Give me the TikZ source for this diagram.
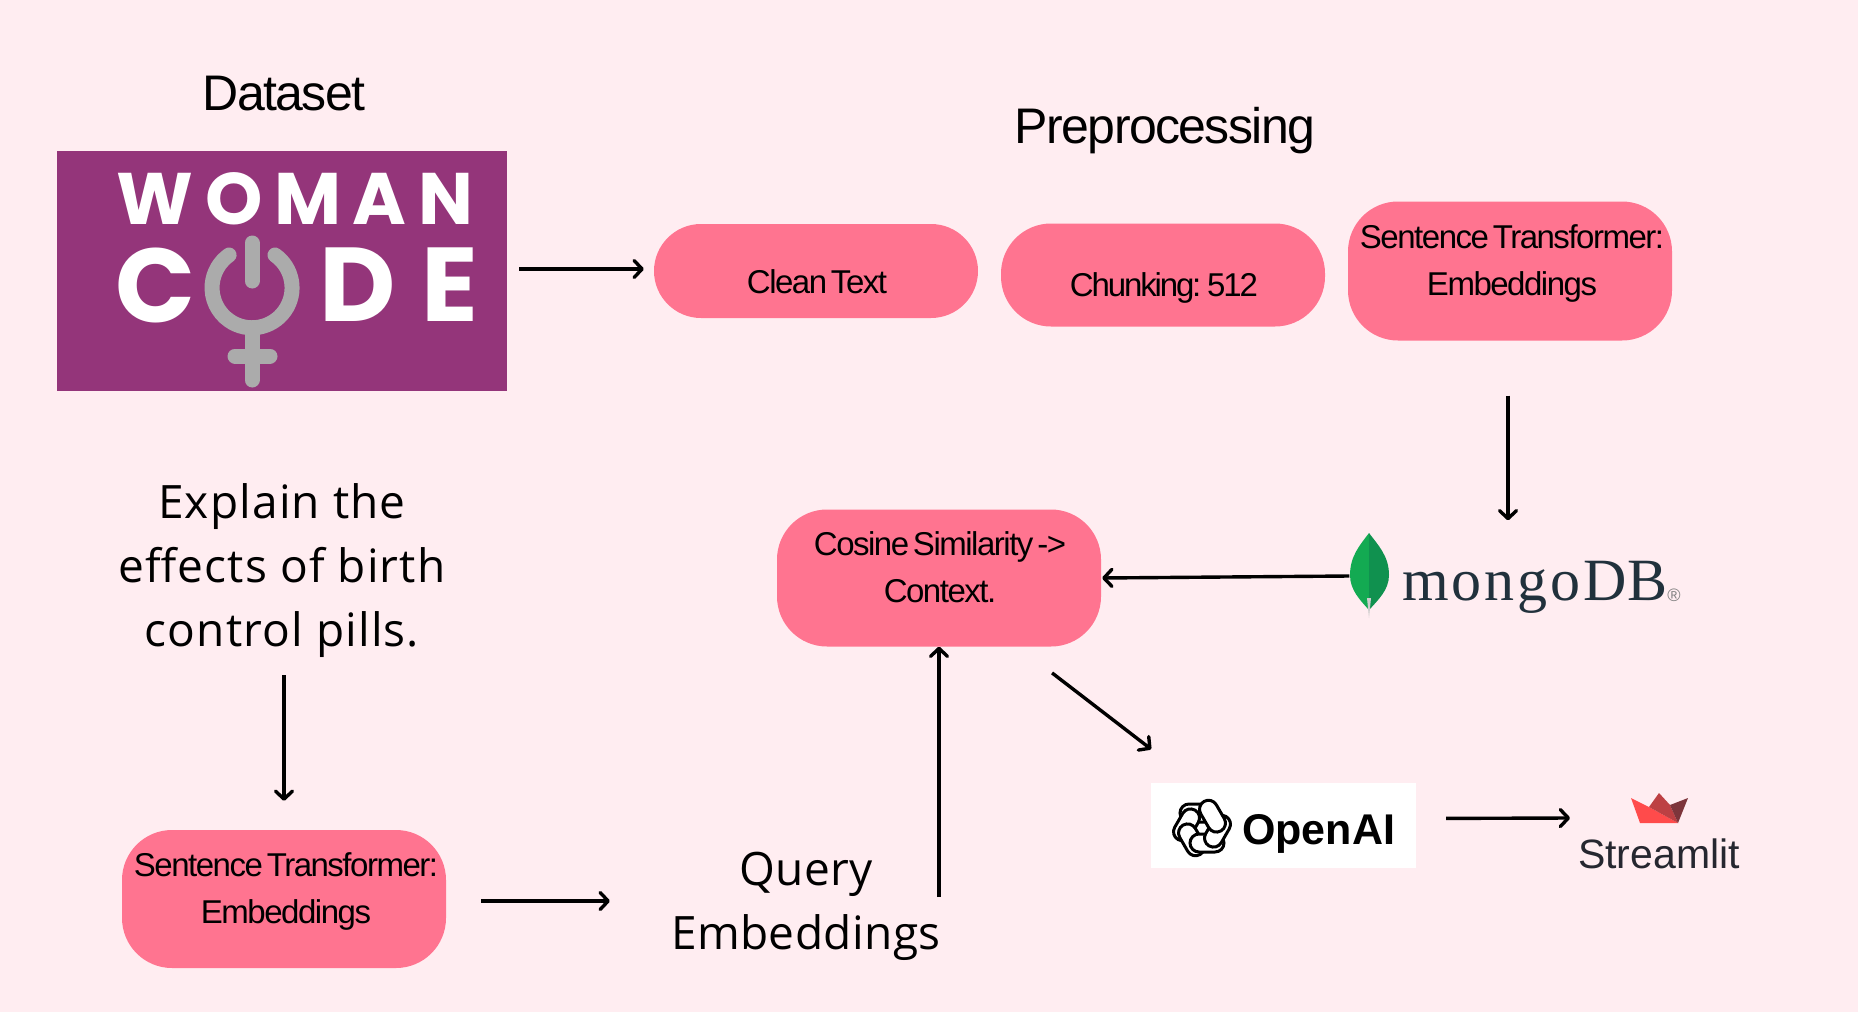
\documentclass[tikz,border=0pt]{standalone}
\usepackage{fontspec}
\usetikzlibrary{arrows.meta}
\setmainfont{Liberation Sans}
\newfontfamily\opensans{Open Sans}
\newfontfamily\poppins{Poppins}
\newfontfamily\mongoserif{Liberation Serif}
\newfontfamily\pillfont[WordSpace=0.5]{Liberation Sans}
\definecolor{blush}{HTML}{FFEDF1}
\definecolor{pillpink}{HTML}{FF7490}
\definecolor{plum}{HTML}{94357A}
\definecolor{logogray}{HTML}{ABABAB}
\definecolor{leafleft}{HTML}{13AA52}
\definecolor{leafright}{HTML}{10914F}
\definecolor{slate}{HTML}{21313C}
\definecolor{litdark}{HTML}{262730}
\definecolor{crownred}{HTML}{FF4B4B}
\definecolor{crownmid}{HTML}{BD4043}
\definecolor{crowndark}{HTML}{7D353B}

\begin{document}
\begin{tikzpicture}
      [ x=1pt, y=-1pt
        , pill/.style={rectangle, rounded corners=#1, fill=pillpink, minimum width=324pt}
        , pilltext/.style={align=center, inner sep=0pt, font=\fontsize{33}{47}\selectfont\pillfont\addfontfeature{LetterSpace=-4.5}}
        , heading/.style={inner sep=0pt, font=\fontsize{50}{60}\selectfont\addfontfeature{LetterSpace=-3.2}}
        , prompt/.style={align=center, inner sep=0pt, font=\fontsize{46}{64}\selectfont\opensans\addfontfeature{LetterSpace=#1}}
        , flow/.style={line width=3.4pt, -{Straight Barb[length=8pt, width=17pt, round]}}
        , womanword/.style={inner sep=0pt, text=white, font=\fontsize{73}{80}\selectfont\poppins\bfseries\addfontfeature{LetterSpace=16}}
        , codeword/.style={inner sep=0pt, text=white, font=\fontsize{105}{110}\selectfont\poppins\bfseries\addfontfeature{LetterSpace=#1}}
        , powerline/.style={draw=logogray, line width=15pt, line cap=round}
      ]
      \useasboundingbox[fill=blush] (0,0) rectangle (1858,1012);

      \node (dataset) [heading] at (284,94) {Dataset};
      \node (preproc) [heading] at (1165,131) {Preprocessing};

      \node (logo) [fill=plum, minimum width=450pt, minimum height=240pt, inner sep=0pt] at (282,271) {};
      \node (woman) [womanword] at (295,199) {WOMAN};
      \node (codec) [codeword=0] at (156,285) {C};
      \node (codede) [codeword=25] at (399,285) {DE};
      \draw[powerline] (275,255) arc (55:-235:40pt);
      \draw[powerline] (252,243) -- (252,281);
      \draw[powerline] (252,335) -- (252,380);
      \draw[powerline] (235,356) -- (270,356);

      \node (clean) [pill=47pt, minimum height=94pt] at (816,271) {};
      \node (cleantext) [pilltext] at (817,282) {Clean Text};
      \node (chunk) [pill=50pt, minimum height=103pt] at (1163,275) {};
      \node (chunktext) [pilltext] at (1164,288) {\addfontfeature{LetterSpace=-6.5}Chunking: 512};
      \node (sentence) [pill=50pt, minimum height=139pt] at (1510,271) {};
      \node (sentencetext) [pilltext] at (1512,263) {Sentence Transformer:\\Embeddings};

      \node (leaf) [minimum width=39pt, minimum height=85pt, inner sep=0pt] at (1369,576) {};
      \fill[leafleft] (1369,533) .. controls (1360,545) and (1350,556) .. (1350,575) .. controls (1350,590) and (1360,600) .. (1369,610) -- cycle;
      \fill[leafright] (1369,533) .. controls (1378,545) and (1389,556) .. (1389,575) .. controls (1389,590) and (1378,600) .. (1369,610) -- cycle;
      \fill[gray!40] (1367,598) -- (1369,618) -- (1371,598) -- cycle;
      \node (mongo) [anchor=base west, inner sep=0pt, text=slate, font=\fontsize{60}{62}\selectfont\mongoserif] at (1402,600) {{\addfontfeature{LetterSpace=5}mongo}\hspace{3pt}DB};
      \node (regmark) [inner sep=0pt, text=gray, font=\fontsize{18}{20}\selectfont] at (1674,595) {®};

      \node (cosine) [pill=50pt, minimum height=137pt] at (939,578) {};
      \node (cosinetext) [pilltext] at (940,567) {Cosine Similarity ->\\Context.};

      \node (explain) [prompt=2.5] at (282,571) {Explain the\\effects of birth\\control pills.};
      \node (query) [prompt=1] at (806,906) {Query\\Embeddings};

      \node (sentencetwo) [pill=50pt, minimum height=138pt] at (284,899) {};
      \node (sentencetwotext) [pilltext] at (286,891) {Sentence Transformer:\\Embeddings};

      \node (openai) [fill=white, minimum width=265pt, minimum height=85pt, inner sep=0pt] at (1283.5,825.5) {};
      \foreach \a in {0,60,...,300}
        \draw[line width=3pt, fill=white, rounded corners=9pt, rotate around={\a:(1202,828)}] (1180,804) rectangle (1214,822);
      \node (openaitext) [anchor=base west, inner sep=0pt, font=\fontsize{43}{46}\selectfont\bfseries] at (1242,844) {OpenAI};

      \coordinate (crown) at (1570,818);
      \fill[crownred] (1631,798) -- (1649,807) -- (1678,823) -- (1640,823) -- cycle;
      \fill[crownmid] (1649,807) -- (1659,793) -- (1670,805) -- (1678,823) -- cycle;
      \fill[crowndark] (1670,805) -- (1688,798) -- (1678,823) -- cycle;
      \node (streamlit) [anchor=base, inner sep=0pt, text=litdark, font=\fontsize{41}{44}\selectfont] at (1659,868) {Streamlit};

      \draw[flow, shorten <=12pt, shorten >=10pt] ([yshift=2pt]logo.east) -- ([yshift=2pt]clean.west);
      \draw[flow, shorten <=55pt, shorten >=13pt] ([xshift=-2pt]sentence.south) -- ([xshift=-2pt]sentence.south |- leaf.north);
      \draw[flow, shorten >=1pt] (leaf.west) -- (cosine.east);
      \draw[flow, shorten <=9pt] (cosine.south |- query.east) -- (cosine.south);
      \draw[flow, shorten <=43pt, shorten >=55pt] ([xshift=79pt]cosine.south) -- ([xshift=44pt]openai.north west);
      \draw[flow, shorten <=17pt, shorten >=29pt] ([xshift=2pt]explain.south) -- (sentencetwo.north);
      \draw[flow, shorten <=35pt, shorten >=61pt] ([yshift=-2pt]sentencetwo.east) -- ([yshift=5pt]query.west);
      \draw[flow, shorten <=30pt] ([yshift=7pt]openai.east) -- (crown);
    \end{tikzpicture}
\end{document}
